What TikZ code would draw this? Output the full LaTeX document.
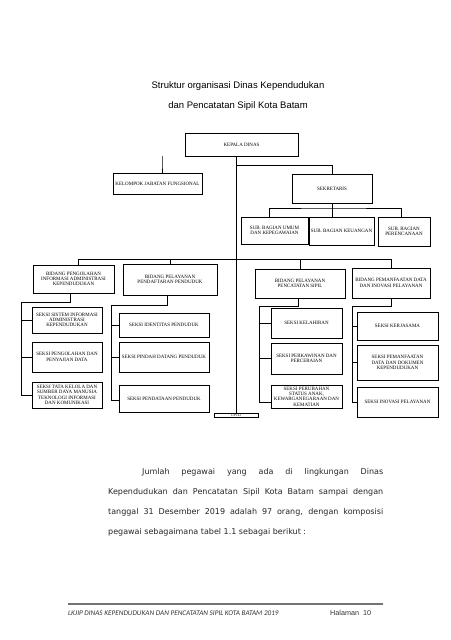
\documentclass[tikz,border=0pt]{standalone}
\usepackage{fontspec}
\setmainfont{Liberation Serif}
\newfontfamily\titlefont{Liberation Sans}
\newfontfamily\bodyfont{DejaVu Sans}
\newfontfamily\footfont{Carlito}
\newcommand\orgbox[6]{\node[orgnode, minimum width={(#4-#2)*1pt}, minimum height={(#5-#3)*1pt}] (#1) at ({(#2+#4)/2},{(#3+#5)/2}) {#6};}
\begin{document}
\begin{tikzpicture}[x=1pt,y=-1pt,
  orgnode/.style={draw, line width=0.5pt, align=center, inner sep=0.5pt, font=\fontsize{5}{5.3}\selectfont},
  link/.style={draw, line width=0.6pt},
  titletext/.style={font=\titlefont\fontsize{9.5}{11}\selectfont, inner sep=0pt},
  bodytext/.style={font=\bodyfont\fontsize{8}{20}\selectfont, inner sep=0pt, align=left, anchor=north west, text=black!85},
  foottext/.style={font=\footfont\itshape\fontsize{7.2}{8}\selectfont, inner sep=0pt, anchor=west, text=black!80},
  pagetext/.style={font=\titlefont\fontsize{7.2}{9}\selectfont, inner sep=0pt, anchor=west, text=black!80}]
\useasboundingbox[fill=white] (0,0) rectangle (450,640);
% title
\node[titletext] (t1) at (238,86) {Struktur organisasi Dinas Kependudukan};
\node[titletext] (t2) at (238,106) {dan Pencatatan Sipil Kota Batam};
% boxes
\orgbox{kadis}{185}{133}{298}{156}{KEPALA DINAS}
\orgbox{kjf}{113}{173}{202}{194}{KELOMPOK JABATAN FUNGSIONAL}
\orgbox{sek}{292}{174}{372}{203}{SEKRETARIS}
\orgbox{sub1}{241}{217}{308}{244}{SUB. BAGIAN UMUM\\DAN KEPEGAWAIAN}
\orgbox{sub2}{309}{217}{374}{245}{SUB. BAGIAN KEUANGAN}
\orgbox{sub3}{378}{217}{430}{246}{SUB. BAGIAN\\PERENCANAAN}
\orgbox{b1}{33}{265}{114}{293}{BIDANG PENGOLAHAN\\INFORMASI ADMINISTRASI\\KEPENDUDUKAN}
\orgbox{b2}{123}{264}{217}{295}{BIDANG PELAYANAN\\PENDAFTARAN PENDUDUK}
\orgbox{b3}{255}{269}{345}{298}{BIDANG PELAYANAN\\PENCATATAN SIPIL}
\orgbox{b4}{352}{268}{430}{298}{BIDANG PEMANFAATAN DATA\\DAN INOVASI PELAYANAN}
\orgbox{s11}{32}{307}{102}{333}{SEKSI SISTEM INFORMASI\\ADMINISTRASI\\KEPENDUDUKAN}
\orgbox{s12}{32}{342}{102}{372}{SEKSI PENGOLAHAN DAN\\PENYAJIAN DATA}
\orgbox{s13}{32}{382}{102}{408}{SEKSI TATA KELOLA DAN\\SUMBER DAYA MANUSIA\\TEKNOLOGI INFORMASI\\DAN KOMUNIKASI}
\orgbox{s21}{119}{313}{209}{337}{SEKSI IDENTITAS PENDUDUK}
\orgbox{s22}{119}{342}{209}{372}{SEKSI PINDAH DATANG PENDUDUK}
\orgbox{s23}{119}{385}{209}{412}{SEKSI PENDATAAN PENDUDUK}
\orgbox{s31}{271}{308}{342}{338}{SEKSI KELAHIRAN}
\orgbox{s32}{271}{343}{342}{374}{SEKSI PERKAWINAN DAN\\PERCERAIAN}
\orgbox{s33}{271}{385}{342}{408}{SEKSI PERUBAHAN\\STATUS ANAK,\\KEWARGANEGARAAN DAN\\KEMATIAN}
\orgbox{s41}{357}{312}{438}{340}{SEKSI KERJASAMA}
\orgbox{s42}{357}{345}{438}{380}{SEKSI PEMANFAATAN\\DATA DAN DOKUMEN\\KEPENDUDUKAN}
\orgbox{s43}{357}{387}{438}{417}{SEKSI INOVASI PELAYANAN}
\node[orgnode, minimum width=44pt, minimum height=4.5pt, inner sep=0pt, font=\fontsize{3.8}{4}\selectfont] (uptd) at (236,415) {UPTD};
% connectors
\draw[link] (kjf.north |- kadis.south) ++(4.5,0) coordinate (kl) -- (kl |- 0,165) -| ([xshift=4.5pt]kjf.north);
\draw[link] (uptd.north |- kadis.south) -- (uptd.north);
\draw[link] (uptd.north |- 0,165) -| (sek.north);
\draw[link] (sek.south) -- (sek.south |- sub2.north);
\draw[link] ([xshift=-5pt]sub1.north) |- (sek.south |- 0,208) -| ([xshift=-3pt]sub3.north);
\draw[link] ([xshift=5pt]b1.north) |- (b4.north |- 0,259) -- (b4.north);
\draw[link] (b2.north) -- (b2.north |- 0,259);
\draw[link] (b3.north) -- (b3.north |- 0,259);
% column 1
\coordinate (c1) at (21,302);
\draw[link] ([xshift=-3.5pt]b1.south) |- (c1) -- (c1 |- s13.west) -- (s13.west);
\draw[link] (c1 |- s11.west) -- (s11.west);
\draw[link] (c1 |- s12.west) -- (s12.west);
% column 2
\coordinate (c2) at (111,305);
\draw[link] ([xshift=-3pt]b2.south) |- (c2) -- (c2 |- 0,400) -- (s23.west |- 0,400);
\draw[link] (c2 |- s21.west) -- (s21.west);
\draw[link] (c2 |- s22.west) -- (s22.west);
% column 3
\coordinate (c3) at (259,306);
\draw[link] ([xshift=-2pt]b3.south) |- (c3) -- (c3 |- 0,402) -- (s33.west |- 0,402);
\draw[link] (c3 |- s31.west) -- (s31.west);
\draw[link] (c3 |- s32.west) -- (s32.west);
% column 4
\coordinate (c4) at (352,306);
\draw[link] (b4.south) |- (c4) -- (c4 |- 0,402) -- (s43.west |- 0,402);
\draw[link] (c4 |- s41.west) -- (s41.west);
\draw[link] (c4 |- s42.west) -- (s42.west);
% body text
\node[bodytext] (body) at (108,468) {%
\hspace*{34pt}\makebox[241pt][s]{Jumlah pegawai yang ada di lingkungan Dinas}\\
\makebox[275pt][s]{Kependudukan dan Pencatatan Sipil Kota Batam sampai dengan}\\
\makebox[275pt][s]{tanggal 31 Desember 2019 adalah 97 orang, dengan komposisi}\\
pegawai sebagaimana tabel 1.1 sebagai berikut :};
% footer
\draw[line width=1.4pt, black!55] (68,604) coordinate (fr1) -- (383,604) coordinate (fr2);
\node[foottext] (foot) at (68,613) {LKJIP DINAS KEPENDUDUKAN DAN PENCATATAN SIPIL KOTA BATAM 2019};
\node[pagetext] (page) at (330,613) {Halaman\ \ 10};
\end{tikzpicture}
\end{document}
